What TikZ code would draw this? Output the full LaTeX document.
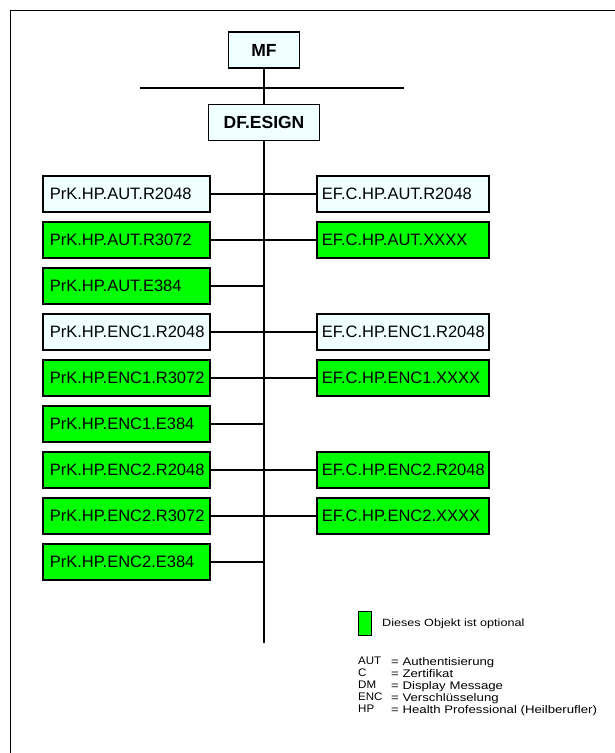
\documentclass[tikz,border=0pt]{standalone}
\usepackage{fontspec}
\setmainfont{Liberation Sans}
\newfontfamily\legfont[FakeStretch=1.2]{Liberation Sans}
\newfontfamily\abfont[FakeStretch=1.05]{Liberation Sans}
\definecolor{pale}{HTML}{F0FFFF}
\definecolor{opt}{HTML}{00FF00}
\begin{document}
\begin{tikzpicture}[x=1pt,y=-1pt,
  line/.style={line width=1.6pt,black},
  box/.style={draw=black,line width=1.6pt,minimum height=36pt,inner ysep=0pt,
    font=\fontsize{16.5}{18}\selectfont,anchor=west,text depth=0pt,align=left},
  lbox/.style={box,minimum width=167pt,inner xsep=7pt,text width=153pt},
  rbox/.style={box,minimum width=172pt,inner xsep=5pt,text width=162pt},
  pbox/.style={fill=pale},
  gbox/.style={fill=opt},
  headbox/.style={draw=black,line width=1.6pt,fill=pale,minimum height=36pt,
    font=\fontsize{17.5}{19}\selectfont\bfseries,inner sep=0pt},
  leg/.style={font=\legfont\fontsize{10.5}{12}\selectfont,inner sep=0pt,anchor=west,align=left},
  abbr/.style={leg,font=\legfont\fontsize{11}{12}\selectfont,anchor=north west},
  abkey/.style={leg,font=\abfont\fontsize{11}{12}\selectfont,anchor=north west}]
\useasboundingbox (0,0) rectangle (615,753);
\fill[white] (0,0) rectangle (615,753);
% frame (only left and top edges visible)
\coordinate (fbl) at (10.5,753);
\coordinate (ftl) at (10.5,10.5);
\coordinate (ftr) at (615,10.5);
\draw[line] (fbl) -- (ftl) -- (ftr);
% head
\node[headbox,minimum width=71pt] (MF) at (264,50) {MF};
\node[headbox,minimum width=111pt] (DF) at (264,122.5) {DF.ESIGN};
\coordinate (hl) at (140,88);
\coordinate (hr) at (404,88);
\coordinate (tend) at (264,643);
\draw[line] (hl) -- (hr);
\draw[line] (MF.south) -- (DF.north);
\draw[line] (DF.south) -- (tend);
% left boxes
\node[lbox,pbox] (L1) at (42,194) {PrK.HP.AUT.R2048};
\node[lbox,gbox] (L2) at (42,240) {PrK.HP.AUT.R3072};
\node[lbox,gbox] (L3) at (42,286) {PrK.HP.AUT.E384};
\node[lbox,pbox] (L4) at (42,332) {PrK.HP.ENC1.R2048};
\node[lbox,gbox] (L5) at (42,378) {PrK.HP.ENC1.R3072};
\node[lbox,gbox] (L6) at (42,424) {PrK.HP.ENC1.E384};
\node[lbox,gbox] (L7) at (42,470) {PrK.HP.ENC2.R2048};
\node[lbox,gbox] (L8) at (42,516) {PrK.HP.ENC2.R3072};
\node[lbox,gbox] (L9) at (42,562) {PrK.HP.ENC2.E384};
% right boxes
\node[rbox,pbox] (R1) at (316,194) {EF.C.HP.AUT.R2048};
\node[rbox,gbox] (R2) at (316,240) {EF.C.HP.AUT.XXXX};
\node[rbox,pbox] (R4) at (316,332) {EF.C.HP.ENC1.R2048};
\node[rbox,gbox] (R5) at (316,378) {EF.C.HP.ENC1.XXXX};
\node[rbox,gbox] (R7) at (316,470) {EF.C.HP.ENC2.R2048};
\node[rbox,gbox] (R8) at (316,516) {EF.C.HP.ENC2.XXXX};
% connectors
\draw[line] (L1.east) -- (R1.west);
\draw[line] (L2.east) -- (R2.west);
\draw[line] (L3.east) -- (L3.east -| tend);
\draw[line] (L4.east) -- (R4.west);
\draw[line] (L5.east) -- (R5.west);
\draw[line] (L6.east) -- (L6.east -| tend);
\draw[line] (L7.east) -- (R7.west);
\draw[line] (L8.east) -- (R8.west);
\draw[line] (L9.east) -- (L9.east -| tend);
% legend
\node[draw=black,line width=1.2pt,fill=opt,minimum width=13pt,minimum height=24pt,inner sep=0pt] (lg) at (365,623.5) {};
\node[leg] (lgt) at (382,624) {Dieses Objekt ist optional};
\node[abkey] (ab) at (358,657) {AUT\\C\\DM\\ENC\\HP};
\node[abbr] (df) at (391,657) {= Authentisierung\\= Zertifikat\\= Display Message\\= Verschlüsselung\\= Health Professional (Heilberufler)};
\end{tikzpicture}
\end{document}
